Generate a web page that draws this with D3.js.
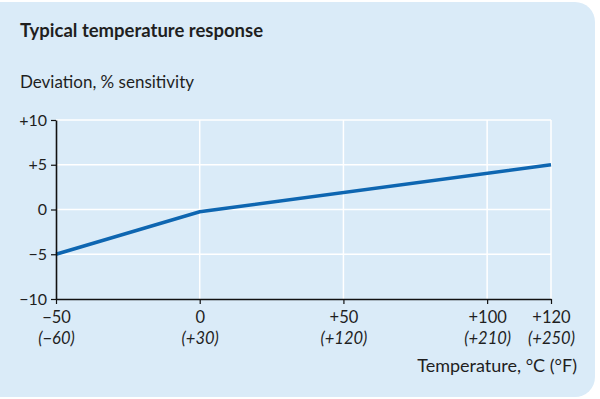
<!DOCTYPE html>
<html><head><meta charset="utf-8">
<script src="https://cdn.jsdelivr.net/npm/d3@7"></script>
<style>
html,body{margin:0;padding:0;background:#fff;}
svg{display:block;}
text{font-family:Lato, "Noto Sans", sans-serif;fill:#1f1f1f;}
</style></head>
<body>
<script>
// ---- data ----
const celsiusTicks = [-50, 0, 50, 100, 120];
const fahrenheitTicks = [-60, 30, 120, 210, 250];
const celsiusLabels = ["−50", "0", "+50", "+100", "+120"];
const fahrenheitLabels = ["(−60)", "(+30)", "(+120)", "(+210)", "(+250)"];
const yTicks = [-10, -5, 0, 5, 10];
const yLabels = ["−10", "−5", "0", "+5", "+10"];
const tempC = [-50, 0, 120];
const deviation = [-5, -0.25, 5];
const title = "Typical temperature response";
const yTitle = "Deviation, % sensitivity";
const xTitle = "Temperature, °C (°F)";

const W = 600, H = 399;
const svg = d3.select("body").append("svg").attr("width", W).attr("height", H);

svg.append("rect").attr("x", -20).attr("y", 2).attr("width", 615).attr("height", 395)
  .attr("rx", 20).attr("ry", 20).attr("fill", "#daebf8");

const pL = 56, pR = 551, pT = 120, pB = 299;
// axis is linear in the Fahrenheit labels
const xF = d3.scaleLinear().domain(d3.extent(fahrenheitTicks)).range([pL, pR]);
const c2f = d3.scaleLinear().domain(celsiusTicks).range(fahrenheitTicks);
const x = c => xF(c2f(c));
const y = d3.scaleLinear().domain([-10, 10]).range([pB, pT]);

// grid
const g = svg.append("g");
g.selectAll("line.h").data(yTicks.filter(v => v > -10)).join("line")
  .attr("x1", pL).attr("x2", pR).attr("y1", d => y(d)).attr("y2", d => y(d))
  .attr("stroke", "#fff").attr("stroke-width", 1.5);
g.selectAll("line.v").data(celsiusTicks.filter(v => v > -50)).join("line")
  .attr("x1", d => x(d)).attr("x2", d => x(d)).attr("y1", pT).attr("y2", pB)
  .attr("stroke", "#fff").attr("stroke-width", 1.5);

// data line
const pts = tempC.map((c, i) => [c, deviation[i]]);
svg.append("path").datum(pts)
  .attr("d", d3.line().x(d => x(d[0])).y(d => y(d[1])))
  .attr("fill", "none").attr("stroke", "#0e66b1").attr("stroke-width", 3.5);

// axes
const yAxis = d3.axisLeft(y).tickValues(yTicks).tickFormat((d, i) => yLabels[i]).tickSize(5).tickPadding(4).tickSizeOuter(0);
const ya = svg.append("g").attr("transform", `translate(${pL},0)`).call(yAxis);
ya.select(".domain").attr("stroke", "#111").attr("stroke-width", 1.6);
ya.selectAll(".tick line").attr("stroke", "#111").attr("stroke-width", 1.2);
ya.selectAll(".tick text").style("font-size", "16px").style("font-family", "Lato").attr("fill", "#1f1f1f");

const xAxis = d3.axisBottom(xF).tickValues(fahrenheitTicks).tickFormat("").tickSize(5).tickSizeOuter(0);
const xa = svg.append("g").attr("transform", `translate(0,${pB})`).call(xAxis);
xa.select(".domain").attr("stroke", "#111").attr("stroke-width", 1.6);
xa.selectAll(".tick line").attr("stroke", "#111").attr("stroke-width", 1.2);
xa.selectAll(".tick").each(function(d, i) {
  const t = d3.select(this);
  t.append("text").attr("y", 24).attr("text-anchor", "middle")
    .style("font-size", "16.5px").text(celsiusLabels[i]);
  t.append("text").attr("y", 45).attr("text-anchor", "middle")
    .style("font-size", "16.5px").style("font-style", "italic").text(fahrenheitLabels[i]);
});

// titles
svg.append("text").attr("x", 20).attr("y", 37).style("font-size", "18.5px").style("font-weight", "bold").text(title);
svg.append("text").attr("x", 20).attr("y", 88).style("font-size", "17px").text(yTitle);
svg.append("text").attr("x", 577).attr("y", 372).attr("text-anchor", "end").style("font-size", "18px").text(xTitle);
</script>
</body></html>
